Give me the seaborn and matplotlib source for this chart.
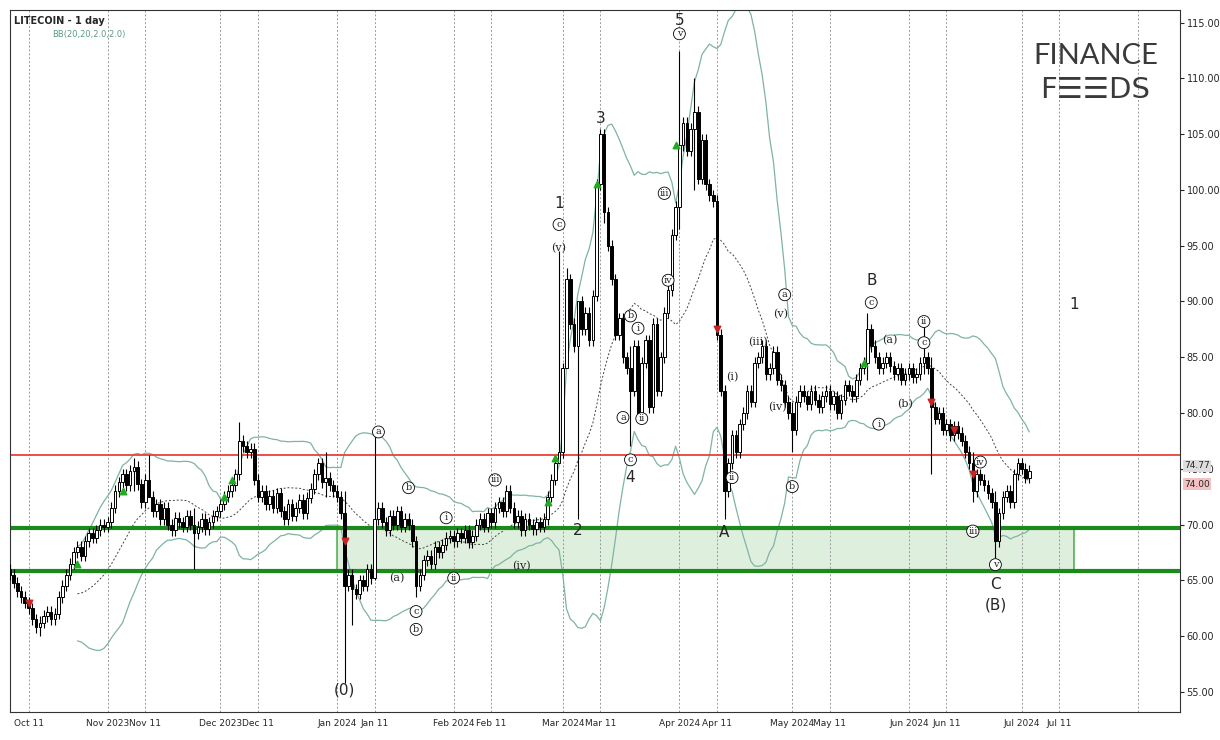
import numpy as np
import pandas as pd
import matplotlib
matplotlib.use("Agg")
import matplotlib.pyplot as plt
import matplotlib.dates as mdates
import seaborn as sns

start_date = "2023-10-05"
closes = [
 66.0,65.5,64.8,64.0,63.5,63.0,62.5,61.5,60.8,61.2,61.8,62.2,61.5,62.0,63.5,64.5,65.5,66.5,67.5,68.0,67.2,68.5,69.2,68.8,69.5,70.0,69.8,
 70.2,71.5,73.0,73.8,74.5,73.5,74.8,75.2,73.6,72.0,74.0,72.5,71.2,71.8,70.5,71.5,70.0,69.5,70.6,70.2,69.8,70.8,70.0,69.2,69.8,70.5,69.6,70.2,70.8,71.2,
 71.8,72.5,73.0,73.5,74.5,77.5,77.0,76.5,76.8,74.0,72.5,73.0,71.8,72.6,71.5,72.8,71.2,70.5,71.8,70.8,71.5,72.2,71.0,72.4,73.2,74.5,75.5,73.8,74.2,73.5,73.0,
 72.5,71.0,64.5,65.5,64.2,63.8,65.0,64.5,66.0,65.2,70.5,71.5,70.2,69.5,70.8,70.0,71.2,69.8,70.5,70.0,68.5,64.5,65.5,66.8,67.2,66.5,68.0,67.5,68.2,68.8,69.0,
 68.5,69.2,68.8,69.5,68.4,69.0,70.0,70.5,69.8,71.0,70.2,71.5,72.0,71.2,73.0,71.5,70.2,70.8,69.5,70.5,70.0,69.6,70.2,69.8,70.5,72.5,74.0,75.5,76.5,
 84.0,92.0,88.0,86.0,90.0,87.5,89.0,86.5,90.5,100.5,105.0,98.0,95.0,92.0,87.0,88.5,85.0,84.0,82.0,86.0,80.0,84.5,86.5,80.5,88.0,82.0,85.0,89.0,91.0,96.0,98.5,
 104.0,106.0,103.5,105.5,107.0,101.0,104.5,100.5,99.5,99.0,87.0,82.0,73.0,75.5,78.0,76.5,79.0,80.0,82.0,81.0,84.5,85.0,86.0,83.5,84.0,85.5,83.0,82.5,81.0,80.0,
 78.5,81.0,82.0,81.5,80.8,82.0,81.2,80.5,81.5,82.0,80.8,81.5,80.0,81.2,82.5,82.0,81.5,83.0,84.0,84.5,87.5,86.0,85.0,84.0,84.5,85.0,84.2,83.5,84.0,83.0,83.5,
 84.0,83.2,83.5,84.5,85.0,84.0,80.5,79.5,80.0,78.5,79.0,78.0,78.8,78.2,77.5,76.5,75.5,73.0,74.5,74.0,73.5,72.8,72.0,68.5,71.0,72.5,73.0,72.0,74.5,75.5,
 75.0,74.2,74.8]
first_open = 66.4
# notable wick extremes: date -> (high, low)
spikes = {
 "2023-10-14": (61.8, 60.0), "2023-11-08": (76.0, 73.0), "2023-11-12": (76.2, 72.5),
 "2023-11-24": (71.5, 66.0), "2023-12-06": (79.2, 74.0), "2023-12-29": (76.5, 72.5),
 "2024-01-03": (73.0, 55.8), "2024-01-05": (66.0, 61.0), "2024-01-11": (78.0, 65.0),
 "2024-01-22": (69.0, 63.5), "2024-02-29": (94.5, 76.0), "2024-03-02": (93.0, 84.0),
 "2024-03-05": (89.0, 70.5), "2024-03-12": (105.5, 97.0), "2024-03-19": (86.0, 77.0),
 "2024-04-01": (112.5, 96.5), "2024-04-05": (110.0, 100.0), "2024-04-13": (82.5, 70.5),
 "2024-05-01": (81.0, 76.5), "2024-05-21": (89.0, 83.0), "2024-06-05": (88.0, 83.5),
 "2024-06-07": (85.0, 74.5), "2024-06-18": (76.5, 72.0), "2024-06-24": (73.0, 67.0),
}
support_top, support_bottom, resistance = 69.7, 65.8, 76.2
last_prices = [74.77, 74.00]
ytick_vals = list(range(55, 116, 5))
xtick_labels = ["Oct 11","Nov 2023","Nov 11","Dec 2023","Dec 11","Jan 2024","Jan 11","Feb 2024",
                "Feb 11","Mar 2024","Mar 11","Apr 2024","Apr 11","May 2024","May 11","Jun 2024",
                "Jun 11","Jul 2024","Jul 11"]
xtick_dates = ["2023-10-11","2023-11-01","2023-11-11","2023-12-01","2023-12-11","2024-01-01","2024-01-11",
               "2024-02-01","2024-02-11","2024-03-01","2024-03-11","2024-04-01","2024-04-11","2024-05-01",
               "2024-05-11","2024-06-01","2024-06-11","2024-07-01","2024-07-11"]
wave_labels = [("(0)","2024-01-03",55.2),("1","2024-02-29",98.8),("2","2024-03-05",69.5),
               ("3","2024-03-11",106.4),("4","2024-03-19",74.2),("5","2024-04-01",115.2),
               ("A","2024-04-13",69.3),("B","2024-05-22",91.9),("C","2024-06-24",64.6),
               ("(B)","2024-06-24",62.8),("1","2024-07-15",89.7)]
circled = [("a","2024-01-12",78.3),("b","2024-01-20",73.3),("c","2024-01-22",62.2),("b","2024-01-22",60.6),
           ("i","2024-01-30",70.6),("ii","2024-02-01",65.2),("iii","2024-02-12",74.0),
           ("c","2024-02-29",96.9),("b","2024-03-19",88.7),("i","2024-03-21",87.6),("a","2024-03-17",79.6),
           ("ii","2024-03-22",79.5),("c","2024-03-19",75.8),("iii","2024-03-28",99.7),("iv","2024-03-29",91.9),
           ("v","2024-04-01",114.0),("ii","2024-04-15",74.2),("a","2024-04-29",90.6),("b","2024-05-01",73.4),
           ("c","2024-05-22",89.9),("i","2024-05-24",79.0),("ii","2024-06-05",88.2),("c","2024-06-05",86.3),
           ("iv","2024-06-20",75.6),("iii","2024-06-18",69.4),("v","2024-06-24",66.4)]
plain = [("(v)","2024-02-29",94.8),("(a)","2024-01-17",65.2),("(iv)","2024-02-19",66.3),
         ("(i)","2024-04-15",83.2),("(v)","2024-04-28",88.9),("(iii)","2024-04-22",86.4),
         ("(iv)","2024-04-27",80.5),("(a)","2024-05-27",86.5),("(b)","2024-05-31",80.8)]
buy_marks = [("2023-10-24",66.5),("2023-11-05",73.0),("2023-12-02",72.5),("2023-12-04",74.0),
             ("2024-02-26",72.0),("2024-02-28",76.0),("2024-03-10",100.5),("2024-03-31",104.0),("2024-05-20",84.5)]
sell_marks = [("2023-10-11",63.0),("2024-01-03",68.5),("2024-04-11",87.5),("2024-06-07",81.0),
              ("2024-06-13",78.5),("2024-06-18",74.5)]

sns.set_style("white")
plt.rcParams['font.family'] = ['DejaVu Sans']
dates = pd.date_range(start_date, periods=len(closes), freq="D")
df = pd.DataFrame({"date": dates, "close": closes})
df["open"] = [first_open] + closes[:-1]
df["high"] = df[["open","close"]].max(axis=1) + 0.5
df["low"] = df[["open","close"]].min(axis=1) - 0.5
for d,(h,l) in spikes.items():
    m = df["date"] == pd.Timestamp(d)
    df.loc[m,"high"] = h; df.loc[m,"low"] = l
mid = df["close"].rolling(20).mean()
sd = df["close"].rolling(20).std(ddof=0)
df["mid"], df["up"], df["dn"] = mid, mid + 2*sd, mid - 2*sd

fig = plt.figure(figsize=(12.2, 7.4), dpi=100)
ax = fig.add_axes([0.008, 0.038, 0.959, 0.948])
x = mdates.date2num(df["date"])
ax.add_patch(plt.Rectangle((mdates.date2num(pd.Timestamp("2024-01-01")), support_bottom),
             mdates.date2num(pd.Timestamp("2024-07-15")) - mdates.date2num(pd.Timestamp("2024-01-01")),
             support_top - support_bottom, facecolor="#d7ecd5", edgecolor="#2ea02e", lw=1.2, alpha=0.8, zorder=0))
for xd in xtick_dates + ["2024-08-01"]:
    ax.axvline(mdates.date2num(pd.Timestamp(xd)), color="#999999", ls=(0,(2,2)), lw=0.7, zorder=0)
sns.lineplot(x=x, y=df["up"].values, ax=ax, color="#7fb3a6", lw=0.9)
sns.lineplot(x=x, y=df["dn"].values, ax=ax, color="#7fb3a6", lw=0.9)
sns.lineplot(x=x, y=df["mid"].values, ax=ax, color="#444444", lw=0.7, linestyle=(0,(2,2)))
ax.vlines(x, df["low"], df["high"], color="black", lw=0.8, zorder=3)
upm = df["close"] >= df["open"]
body_lo = df[["open","close"]].min(axis=1); body_h = (df["close"]-df["open"]).abs().clip(lower=0.15)
ax.bar(x[upm], body_h[upm], bottom=body_lo[upm], width=0.7, color="white", edgecolor="black", lw=0.7, zorder=4)
ax.bar(x[~upm], body_h[~upm], bottom=body_lo[~upm], width=0.7, color="black", edgecolor="black", lw=0.7, zorder=4)
ax.axhline(resistance, color="#e8413c", lw=1.3, zorder=2)
ax.axhline(support_top, color="#1a8a1a", lw=3, zorder=2)
ax.axhline(support_bottom, color="#1a8a1a", lw=3, zorder=2)
ax.scatter([mdates.date2num(pd.Timestamp(d)) for d,_ in buy_marks], [p for _,p in buy_marks], marker="^", color="#22aa22", s=22, zorder=5)
ax.scatter([mdates.date2num(pd.Timestamp(d)) for d,_ in sell_marks], [p for _,p in sell_marks], marker="v", color="#cc2222", s=22, zorder=5)
for t,d,p in wave_labels:
    ax.text(mdates.date2num(pd.Timestamp(d)), p, t, ha="center", va="center", fontsize=11, zorder=6)
for t,d,p in circled:
    ax.text(mdates.date2num(pd.Timestamp(d)), p, t, ha="center", va="center", fontsize=7, family="serif",
            bbox=dict(boxstyle="circle,pad=0.15", fc="white", ec="black", lw=0.6), zorder=6)
for t,d,p in plain:
    ax.text(mdates.date2num(pd.Timestamp(d)), p, t, ha="center", va="center", fontsize=8, family="serif", zorder=6)

ax.set_xlim(mdates.date2num(pd.Timestamp("2023-10-06")), mdates.date2num(pd.Timestamp("2024-08-12")))
ax.set_ylim(53.2, 116.1)
ax.yaxis.tick_right()
ax.set_yticks(ytick_vals)
ax.set_yticklabels([f"{v:.2f}" for v in ytick_vals], fontsize=7)
ax.set_xticks([mdates.date2num(pd.Timestamp(d)) for d in xtick_dates])
ax.set_xticklabels(xtick_labels, fontsize=6.5)
ax.tick_params(length=3, pad=2)
for s in ax.spines.values():
    s.set_color("#333333"); s.set_linewidth(0.8)
ax.set_xlabel(""); ax.set_ylabel("")
for v,c,off in zip(last_prices, ["#dddddd","#f4c2c2"], [4, -3]):
    ax.annotate(f"{v:.2f}", xy=(1.0, v), xycoords=("axes fraction","data"), xytext=(3,off), textcoords="offset points",
                fontsize=6.5, va="center", zorder=10, bbox=dict(boxstyle="square,pad=0.15", fc=c, ec="none"))
ax.text(0.004, 0.992, "LITECOIN - 1 day", transform=ax.transAxes, fontsize=7, va="top", weight="bold")
ax.text(0.036, 0.972, "BB(20,20,2.0,2.0)", transform=ax.transAxes, fontsize=6, va="top", color="#5a9a8a")
fig.text(0.898, 0.925, "FINANCE", fontsize=21, color="#3a3a3a", ha="center", va="center", family=["Lato", "DejaVu Sans"])
fig.text(0.898, 0.878, "F\u2630\u2630DS", fontsize=21, color="#3a3a3a", ha="center", va="center", family=["DejaVu Sans"])
fig.savefig("out.png", dpi=100)
